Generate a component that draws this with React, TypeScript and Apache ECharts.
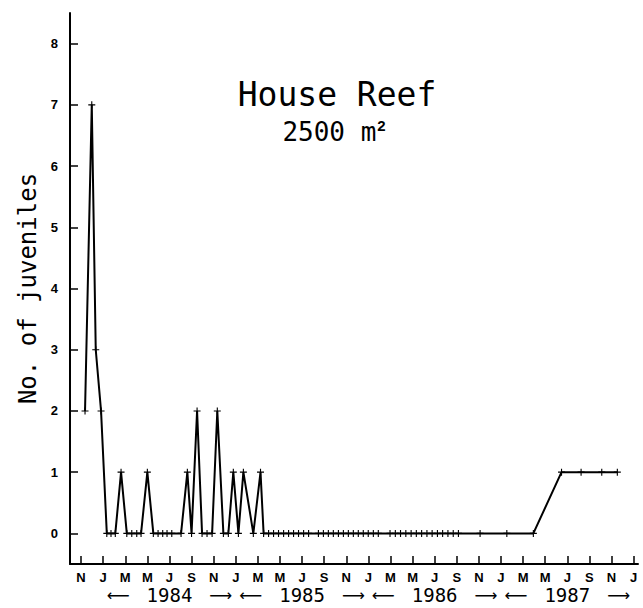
import React, { useEffect, useRef } from "react";
import * as echarts from "echarts";

// Sampling dates, in months since 1 Nov 1983
const sampleMonths = [
  0.36, 0.97, 1.33, 1.81, 2.33, 2.71, 3.1, 3.62, 4.14, 4.59,
  5.04, 5.43, 6.0, 6.54, 6.97, 7.39, 7.78, 8.21, 9.05, 9.62,
  10.0, 10.5, 10.95, 11.4, 11.86, 12.33, 12.88, 13.33, 13.78, 14.24,
  14.69, 15.59, 16.24,
  16.52, 16.97, 17.42, 17.87, 18.33, 18.78, 19.23, 19.68, 20.14, 20.59,
  21.48, 21.93, 22.38, 22.83, 23.29, 23.74, 24.19, 24.64, 25.09, 25.54, 25.99, 26.45, 26.9,
  27.96, 28.44, 28.91, 29.39, 29.87, 30.34, 30.82, 31.3, 31.77, 32.25, 32.72, 33.2, 33.68, 34.15,
  36.11, 38.53, 40.93,
  43.48, 45.25, 47.12, 48.53,
];

// Number of juveniles counted at each sampling date
const juveniles = [
  2, 7, 3, 2, 0, 0, 0, 1, 0, 0,
  0, 0, 1, 0, 0, 0, 0, 0, 0, 1,
  0, 2, 0, 0, 0, 2, 0, 0, 1, 0,
  1, 0, 1,
  0, 0, 0, 0, 0, 0, 0, 0, 0, 0,
  0, 0, 0, 0, 0, 0, 0, 0, 0, 0, 0, 0, 0,
  0, 0, 0, 0, 0, 0, 0, 0, 0, 0, 0, 0, 0, 0,
  0, 0, 0,
  1, 1, 1, 1,
];

// x-axis month ticks (every two months from Nov 1983 to Jan 1988)
const tickMonths = [
  0, 2, 4, 6, 8, 10, 12, 14, 16, 18, 20, 22, 24, 26, 28, 30, 32, 34, 36, 38, 40, 42, 44, 46, 48, 50,
];
const monthLetters = [
  "N", "J", "M", "M", "J", "S", "N", "J", "M", "M", "J", "S", "N",
  "J", "M", "M", "J", "S", "N", "J", "M", "M", "J", "S", "N", "J",
];
const years = ["1984", "1985", "1986", "1987"];
const yearCenters = [8, 20, 32, 44];
const yTicks = [0, 1, 2, 3, 4, 5, 6, 7, 8];

const titleLine1 = "House Reef";
const titleLine2 = "2500 m";
const titleSup = "2";
const yName = "No. of juveniles";

const PLUS =
  "path://M-0.16,-1H0.16V-0.16H1V0.16H0.16V1H-0.16V0.16H-1V-0.16H-0.16Z";

export default function App() {
  const ref = useRef<HTMLDivElement>(null);

  useEffect(() => {
    if (!ref.current) return;
    const chart = echarts.init(ref.current, null, { renderer: "svg" });
    const data = sampleMonths.map((m, i) => [m, juveniles[i]]);
    const mono = "DejaVu Sans Mono";
    const tickFont = "Liberation Sans";

    chart.setOption({
      animation: false,
      backgroundColor: "#ffffff",
      grid: { left: 70, top: 13, width: 568, height: 551, containLabel: false },
      xAxis: [
        {
          type: "value",
          min: -1,
          max: 50.4,
          position: "bottom",
          axisLine: { show: true, onZero: false, lineStyle: { color: "#000", width: 2 } },
          axisTick: {
            show: true,
            inside: true,
            length: 8,
            customValues: tickMonths,
            lineStyle: { color: "#000", width: 1.5 },
          },
          axisLabel: {
            show: true,
            customValues: tickMonths,
            margin: 7,
            color: "#000",
            fontFamily: tickFont,
            fontWeight: "bold",
            fontSize: 13,
            formatter: (v: number) => {
              const i = tickMonths.indexOf(Math.round(v));
              return i >= 0 ? monthLetters[i] : "";
            },
          },
          splitLine: { show: false },
        },
        {
          type: "value",
          min: -1,
          max: 50.4,
          position: "bottom",
          axisLine: { show: false },
          axisTick: { show: false },
          splitLine: { show: false },
          axisLabel: {
            show: true,
            customValues: yearCenters,
            margin: 21,
            color: "#000",
            formatter: (v: number) => {
              const i = yearCenters.indexOf(Math.round(v));
              return i >= 0 ? `{a|⟵}{y|${years[i]}}{b|⟶}` : "";
            },
            rich: {
              a: { fontFamily: "DejaVu Sans", fontSize: 16, color: "#000", lineHeight: 20 },
              b: { fontFamily: "DejaVu Sans", fontSize: 16, color: "#000", lineHeight: 20 },
              y: {
                fontFamily: mono,
                fontSize: 19,
                color: "#000",
                lineHeight: 20,
                padding: [0, 17, 0, 17],
              },
            },
          },
        },
      ],
      yAxis: {
        type: "value",
        min: -0.5,
        max: 8.5,
        name: yName,
        nameLocation: "middle",
        nameRotate: 90,
        nameGap: 17,
        nameTextStyle: { fontFamily: mono, fontSize: 24, color: "#000" },
        axisLine: { show: true, onZero: false, lineStyle: { color: "#000", width: 2 } },
        axisTick: {
          show: true,
          inside: true,
          length: 8,
          customValues: yTicks,
          lineStyle: { color: "#000", width: 1.5 },
        },
        axisLabel: {
          show: true,
          customValues: yTicks,
          margin: 12,
          color: "#000",
          fontFamily: tickFont,
          fontWeight: "bold",
          fontSize: 13,
        },
        splitLine: { show: false },
      },
      graphic: [
        {
          type: "text",
          x: 337,
          y: 94,
          style: {
            text: titleLine1,
            fontFamily: mono,
            fontSize: 33,
            fill: "#000",
            align: "center",
            verticalAlign: "middle",
          },
        },
        {
          type: "text",
          x: 334,
          y: 132,
          style: {
            text: `{m|${titleLine2}}{s|${titleSup}}`,
            align: "center",
            verticalAlign: "middle",
            rich: {
              m: { fontFamily: mono, fontSize: 26, fill: "#000", lineHeight: 28 },
              s: {
                fontFamily: "Liberation Sans",
                fontWeight: "bold",
                fontSize: 15,
                fill: "#000",
                lineHeight: 28,
                padding: [0, 0, 14, 1],
              },
            },
          },
        },
      ],
      series: [
        {
          type: "line",
          xAxisIndex: 0,
          data,
          symbol: PLUS,
          symbolSize: 7,
          showAllSymbol: true,
          lineStyle: { color: "#000", width: 2 },
          itemStyle: { color: "#000" },
        },
      ],
    });

    return () => chart.dispose();
  }, []);

  return (
    <div
      ref={ref}
      style={{ position: "fixed", left: 0, top: 0, width: 643, height: 608, background: "#fff" }}
    />
  );
}
